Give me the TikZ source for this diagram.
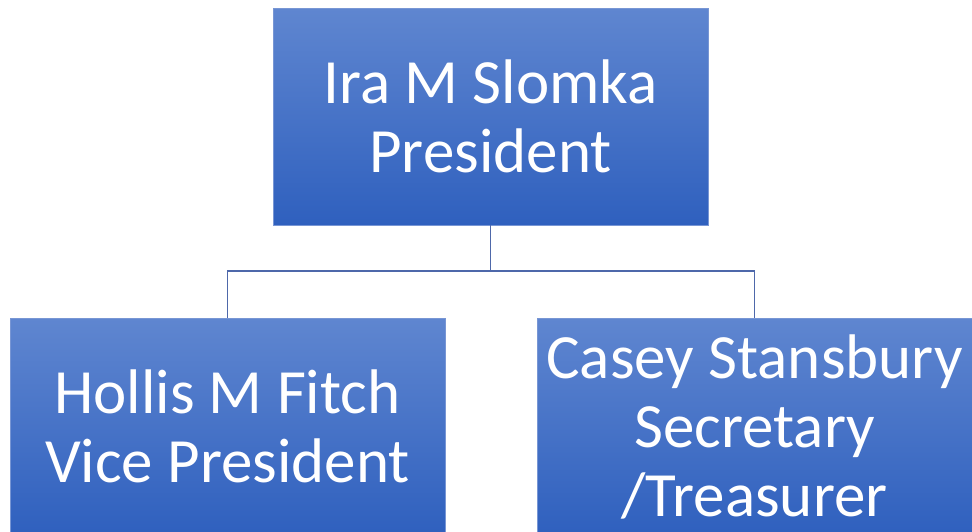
\documentclass[tikz,border=0pt]{standalone}
\usepackage{fontspec}
\setmainfont{Carlito}
\definecolor{boxtop}{RGB}{95,134,208}
\definecolor{boxbot}{RGB}{47,96,190}
\definecolor{boxedge}{RGB}{120,150,212}
\definecolor{linkcol}{RGB}{78,104,170}
\begin{document}
\begin{tikzpicture}[x=1pt,y=-1pt,
  orgbox/.style={rectangle, minimum width=435pt, minimum height=217pt,
    top color=boxtop, bottom color=boxbot, draw=boxedge, line width=0.8pt,
    text=white, align=center, inner sep=0pt,
    font=\fontsize{63}{69}\selectfont},
  link/.style={draw=linkcol, line width=1.6pt}]
\useasboundingbox (0,0) rectangle (972,531);
\clip (0,0) rectangle (972,531);
\fill[white] (0,0) rectangle (972,531);
\node[orgbox] (pres) at (490.5,116.5) {Ira M Slomka\\President};
\node[orgbox] (vp) at (227.5,426.5) {Hollis M Fitch\\Vice President};
\node[orgbox] (sec) at (754.5,426.5) {Casey Stansbury\\Secretary\\/Treasurer};
\coordinate (bus) at (490.5,271);
\draw[link] (pres.south) -- (bus);
\draw[link] (bus) -| (vp.north);
\draw[link] (bus) -| (sec.north);
\end{tikzpicture}
\end{document}
